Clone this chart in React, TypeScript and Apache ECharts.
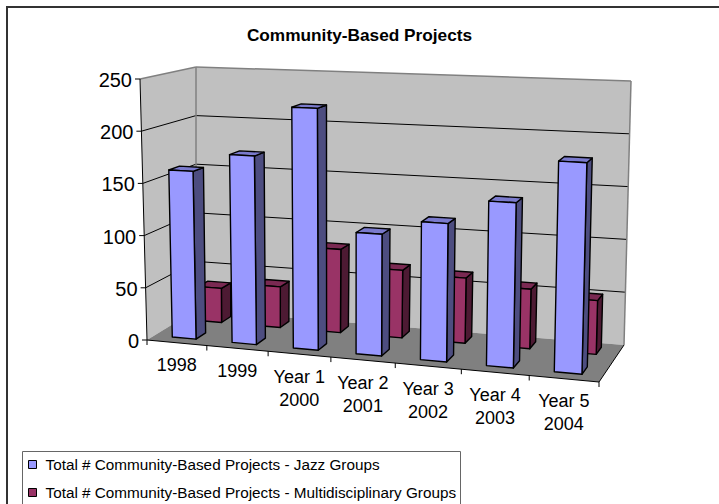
import React, { useEffect, useRef } from "react";
import * as echarts from "echarts";

const categories = ["1998", "1999", "Year 1\n2000", "Year 2\n2001", "Year 3\n2002", "Year 4\n2003", "Year 5\n2004"];
const jazzGroups = [161, 179, 227, 113, 127, 150, 190];
const multiGroups = [34, 40, 81, 65, 62, 56, 50];
const valueTicks = [0, 50, 100, 150, 200, 250];
const titleText = "Community-Based Projects";
const jazzName = "Total # Community-Based Projects - Jazz Groups";
const multiName = "Total # Community-Based Projects - Multidisciplinary Groups";

const FONT = '"Liberation Sans", Arial, sans-serif';
type Pt = [number, number];

// Corners of the 3-D plot box, ordered front-left, front-right, back-right, back-left.
const FLOOR: Pt[] = [[147, 340], [599, 382], [624, 345], [196, 310]];
const CEILING: Pt[] = [[140, 79], [606, 100], [631, 81], [196, 67]];
// Share of true perspective in the floor mapping; the rest is plain bilinear.
const PERSPECTIVE = 0.65;
const BAR_OUTLINE = 1.4;

// Projective map from the unit square onto a quadrilateral.
function homography(q: Pt[]) {
  const [[x0, y0], [x1, y1], [x2, y2], [x3, y3]] = q;
  const dx1 = x1 - x2, dx2 = x3 - x2, sx = x0 - x1 + x2 - x3;
  const dy1 = y1 - y2, dy2 = y3 - y2, sy = y0 - y1 + y2 - y3;
  const det = dx1 * dy2 - dx2 * dy1;
  const g = (sx * dy2 - dx2 * sy) / det;
  const h = (dx1 * sy - sx * dy1) / det;
  const a = x1 - x0 + g * x1, b = x3 - x0 + h * x3;
  const d = y1 - y0 + g * y1, e = y3 - y0 + h * y3;
  return (u: number, w: number): Pt => {
    const k = g * u + h * w + 1;
    return [(a * u + b * w + x0) / k, (d * u + e * w + y0) / k];
  };
}
const floorPerspective = homography(FLOOR);

const bilinear = (q: Pt[], u: number, w: number, axis: 0 | 1) =>
  (q[0][axis] * (1 - u) + q[1][axis] * u) * (1 - w) + (q[3][axis] * (1 - u) + q[2][axis] * u) * w;

// u: along the categories, v: up the value range, w: into the depth of the box (all 0..1).
// The floor carries the perspective; verticals rise along a height vector blended from the corners.
function project(u: number, v: number, w: number): Pt {
  const p = floorPerspective(u, w);
  const f: Pt = [
    p[0] * PERSPECTIVE + bilinear(FLOOR, u, w, 0) * (1 - PERSPECTIVE),
    p[1] * PERSPECTIVE + bilinear(FLOOR, u, w, 1) * (1 - PERSPECTIVE),
  ];
  const rise = (axis: 0 | 1) => bilinear(CEILING, u, w, axis) - bilinear(FLOOR, u, w, axis);
  return [f[0] + rise(0) * v, f[1] + rise(1) * v];
}

const poly = (points: Pt[], fill: string, stroke = "#000", lineWidth = BAR_OUTLINE) => ({
  type: "polygon",
  shape: { points },
  style: { fill, stroke: stroke || undefined, lineWidth, lineJoin: "round" },
});
const seg = (a: Pt, b: Pt, stroke: string, lineWidth = 1) => ({
  type: "line",
  shape: { x1: a[0], y1: a[1], x2: b[0], y2: b[1] },
  style: { stroke, lineWidth, fill: "none" },
});

// Normalised position of a data point inside the hidden cartesian grid.
function normalised(params: any, api: any, cat: number, value: number) {
  const cs = params.coordSys;
  const p = api.coord([cat, value]);
  return {
    u: (p[0] - cs.x) / cs.width,
    v: (cs.y + cs.height - p[1]) / cs.height,
    band: api.size([1, 0])[0] / cs.width,
  };
}

function renderBox(params: any, api: any) {
  const children: any[] = [];
  const wallStroke = "#808080";
  // left wall, back wall, floor
  children.push(poly([project(0, 0, 0), project(0, 0, 1), project(0, 1, 1), project(0, 1, 0)], "#C0C0C0", "", 0));
  children.push(poly([project(0, 0, 1), project(1, 0, 1), project(1, 1, 1), project(0, 1, 1)], "#C0C0C0", "", 0));
  children.push(poly([project(0, 0, 0), project(1, 0, 0), project(1, 0, 1), project(0, 0, 1)], "#808080", "", 0));

  valueTicks.forEach((t) => {
    const { v } = normalised(params, api, 0, t);
    const front = project(0, v, 0);
    const back = project(0, v, 1);
    const right = project(1, v, 1);
    if (t === 250) {
      children.push(seg(front, back, wallStroke, 1.5), seg(back, right, wallStroke, 1.5));
    } else if (t > 0) {
      children.push(seg(front, back, "#000"), seg(back, right, "#000"));
    }
    children.push(seg([front[0] - 5, front[1]], front, "#000"));
    children.push({
      type: "text",
      style: {
        text: String(t), x: front[0] - 8, y: front[1] + 1,
        textAlign: "right", textVerticalAlign: "middle",
        font: `20px ${FONT}`, fill: "#000",
      },
    });
  });

  children.push(seg(project(0, 0, 1), project(0, 1, 1), wallStroke, 1.5));
  children.push(seg(project(1, 1, 1), project(1, 0, 1), wallStroke, 1.5));
  children.push(seg(project(0, 0, 0), project(0, 1, 0), "#000"));
  children.push(seg(project(0, 0, 0), project(1, 0, 0), "#000"));
  children.push(seg(project(1, 0, 0), project(1, 0, 1), "#000"));

  categories.forEach((label, i) => {
    const { u, band } = normalised(params, api, i, 0);
    const tickAt = project(u + band / 2, 0, 0);
    children.push(seg(tickAt, [tickAt[0], tickAt[1] + 5], "#000"));
    const mid = project(u, 0, 0);
    children.push({
      type: "text",
      style: {
        text: label, x: mid[0], y: mid[1] + 11,
        textAlign: "center", textVerticalAlign: "top",
        font: `18px ${FONT}`, lineHeight: 23, fill: "#000",
      },
    });
  });
  const first = project(0, 0, 0);
  children.push(seg(first, [first[0], first[1] + 5], "#000"));
  return { type: "group", children };
}

// One solid column: front, side and top faces at the depth range w0..w1.
function makeBarRenderer(w0: number, w1: number, front: string, side: string, top: string) {
  return (params: any, api: any) => {
    const { u, v, band } = normalised(params, api, api.value(0), api.value(1));
    const half = band * 0.2;
    const l = u - half, r = u + half;
    return {
      type: "group",
      children: [
        poly([project(r, 0, w0), project(r, 0, w1), project(r, v, w1), project(r, v, w0)], side),
        poly([project(l, v, w0), project(r, v, w0), project(r, v, w1), project(l, v, w1)], top),
        poly([project(l, 0, w0), project(r, 0, w0), project(r, v, w0), project(l, v, w0)], front),
      ],
    };
  };
}

const toRows = (values: number[]) => values.map((val, i) => [i, val]);

export default function App() {
  const ref = useRef<HTMLDivElement>(null);
  useEffect(() => {
    document.body.style.margin = "0";
    document.body.style.overflow = "hidden";
    const chart = echarts.init(ref.current!, undefined, { renderer: "svg" });
    chart.setOption({
      animation: false,
      backgroundColor: "#fff",
      title: {
        text: titleText,
        left: "center",
        top: 21,
        textStyle: { fontFamily: FONT, fontSize: 17.25, fontWeight: "bold", color: "#000" },
      },
      grid: { left: 0, right: 0, top: 0, bottom: 0 },
      xAxis: { type: "category", data: categories, show: false },
      yAxis: { type: "value", min: 0, max: 250, interval: 50, show: false },
      legend: {
        data: [jazzName, multiName],
        orient: "vertical",
        left: 28,
        top: 457,
        padding: 0,
        itemGap: 13,
        itemWidth: 8,
        itemHeight: 8,
        icon: "rect",
        selectedMode: false,
        itemStyle: { borderColor: "#000", borderWidth: 1 },
        textStyle: { fontFamily: FONT, fontSize: 15.3, color: "#000", padding: [0, 0, 0, 4] },
      },
      graphic: [
        { type: "rect", shape: { x: 7, y: 7, width: 800, height: 600 }, style: { fill: "none", stroke: "#333", lineWidth: 2 }, silent: true, z: 0 },
        { type: "rect", shape: { x: 22.5, y: 451.5, width: 438, height: 80 }, style: { fill: "none", stroke: "#666", lineWidth: 1 }, silent: true, z: 0 },
      ],
      series: [
        { type: "custom", name: "box", data: [[0, 0]], renderItem: renderBox, clip: false, z: 1, silent: true },
        {
          type: "custom", name: multiName, data: toRows(multiGroups), clip: false, z: 2, silent: true,
          itemStyle: { color: "#993366" },
          renderItem: makeBarRenderer(0.69, 0.89, "#993366", "#4D1A33", "#7A2952"),
        },
        {
          type: "custom", name: jazzName, data: toRows(jazzGroups), clip: false, z: 3, silent: true,
          itemStyle: { color: "#9999FF" },
          renderItem: makeBarRenderer(0.15, 0.35, "#9999FF", "#4D4D80", "#7A7ACC"),
        },
      ],
    });
    return () => chart.dispose();
  }, []);
  return <div ref={ref} style={{ width: 719, height: 504 }} />;
}
